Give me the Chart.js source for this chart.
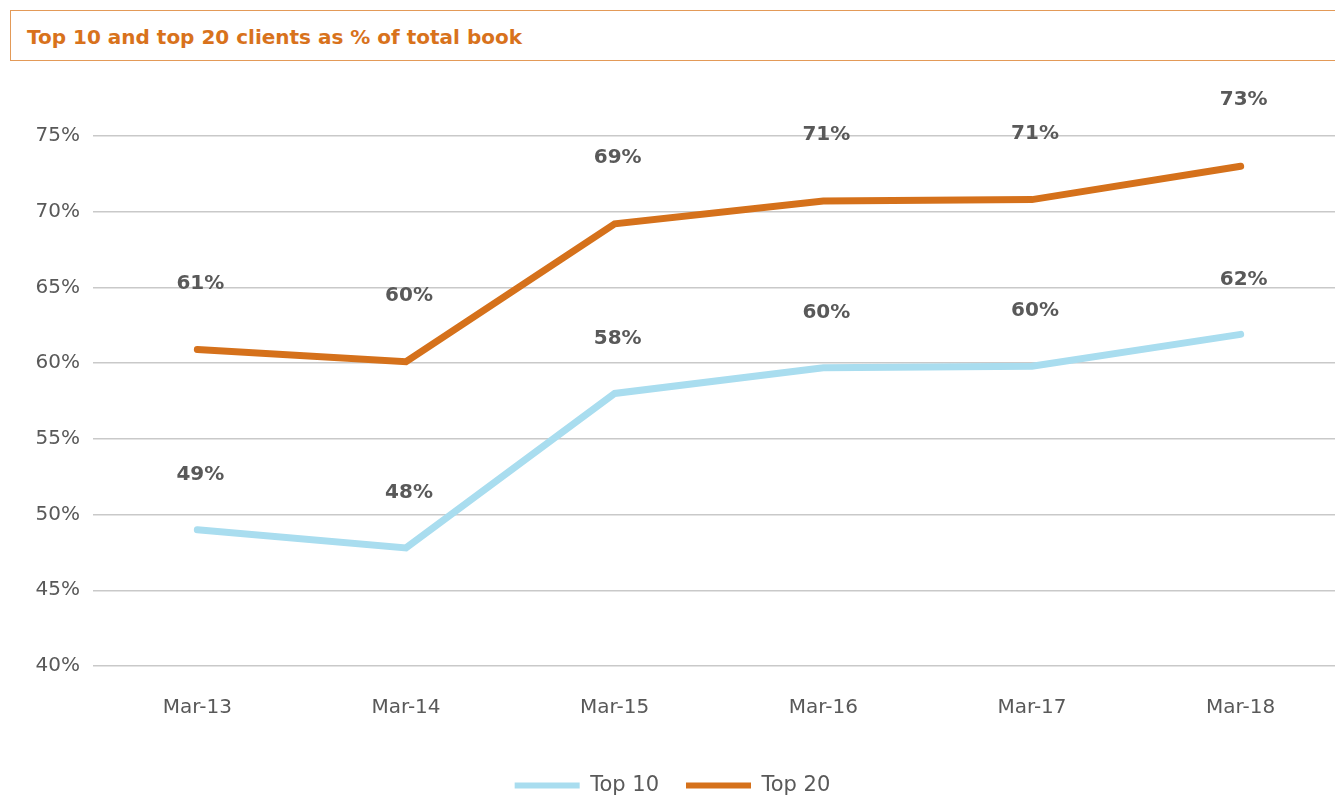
<!DOCTYPE html>
<html>
<head>
<meta charset="utf-8">
<script src="https://cdn.jsdelivr.net/npm/chart.js@4.4.1/dist/chart.umd.min.js"></script>
<style>
  html, body { margin: 0; padding: 0; background: #ffffff; }
  body { width: 1335px; height: 796px; overflow: hidden; position: relative; font-family: "DejaVu Sans", sans-serif; }
  #titleBox {
    position: absolute; left: 10px; top: 10px; width: 1340px; height: 51px;
    border: 1.5px solid #E39A58; box-sizing: border-box;
  }
  #titleBox span {
    position: absolute; left: 16px; top: 14px;
    font-family: "DejaVu Sans", sans-serif; font-weight: 700; font-size: 20px;
    color: #D8721C;
  }
  #wrap { position: absolute; left: 0; top: 0; width: 1345px; height: 812px; }
</style>
</head>
<body>
<div id="titleBox"><span>Top 10 and top 20 clients as % of total book</span></div>
<div id="wrap"><canvas id="chart" width="1345" height="812"></canvas></div>
<script>
// Year-end snapshots of client concentration
const periods = ['Mar-13', 'Mar-14', 'Mar-15', 'Mar-16', 'Mar-17', 'Mar-18'];
const top10Share = [49.0, 47.8, 58.0, 59.7, 59.8, 61.9];
const top20Share = [60.9, 60.1, 69.2, 70.7, 70.8, 73.0];
const yTicks = [40, 45, 50, 55, 60, 65, 70, 75];

const ORANGE = '#D5711B';
const BLUE = '#A9DDEF';
const GREY = '#595959';
const FONT = '"DejaVu Sans", sans-serif';

// Writes the rounded value above each point
const valueLabels = {
  id: 'valueLabels',
  afterDatasetsDraw(chart) {
    const ctx = chart.ctx;
    ctx.save();
    ctx.font = 'bold 20px ' + FONT;
    ctx.fillStyle = GREY;
    ctx.textAlign = 'center';
    ctx.textBaseline = 'middle';
    chart.data.datasets.forEach((ds, i) => {
      const meta = chart.getDatasetMeta(i);
      meta.data.forEach((pt, j) => {
        ctx.fillText(Math.round(ds.data[j]) + '%', pt.x + 3, pt.y - ds.labelOffset);
      });
    });
    ctx.restore();
  }
};

new Chart(document.getElementById('chart'), {
  type: 'line',
  data: {
    labels: periods,
    datasets: [
      {
        label: 'Top 10', data: top10Share, borderColor: BLUE, backgroundColor: BLUE,
        borderWidth: 7, pointRadius: 0, tension: 0, borderCapStyle: 'round',
        borderJoinStyle: 'miter', labelOffset: 55
      },
      {
        label: 'Top 20', data: top20Share, borderColor: ORANGE, backgroundColor: ORANGE,
        borderWidth: 7, pointRadius: 0, tension: 0, borderCapStyle: 'round',
        borderJoinStyle: 'miter', labelOffset: 66
      }
    ]
  },
  options: {
    responsive: false,
    animation: false,
    layout: { padding: { top: 136, left: 0, right: 0, bottom: 6 } },
    plugins: {
      tooltip: { enabled: false },
      legend: {
        position: 'bottom',
        labels: {
          boxWidth: 65, boxHeight: 6, padding: 27,
          color: GREY, font: { family: FONT, size: 21 },
          generateLabels(chart) {
            return Chart.defaults.plugins.legend.labels.generateLabels(chart)
              .map(l => Object.assign(l, { lineWidth: 0 }));
          }
        }
      }
    },
    scales: {
      x: {
        offset: true,
        grid: { display: false, drawTicks: false, offset: true },
        border: { display: false },
        ticks: { color: GREY, font: { family: FONT, size: 20 }, padding: 30 },
        afterFit(scale) { scale.height = 82; }
      },
      y: {
        min: 40, max: 75,
        afterBuildTicks(scale) { scale.ticks = yTicks.map(v => ({ value: v })); },
        grid: { color: '#C9C9C9', lineWidth: 1.5, drawTicks: false },
        border: { display: false },
        ticks: {
          color: GREY, font: { family: FONT, size: 20 }, padding: 13,
          callback: v => v + '%'
        },
        afterFit(scale) { scale.width = 93; }
      }
    }
  },
  plugins: [valueLabels]
});
</script>
</body>
</html>
